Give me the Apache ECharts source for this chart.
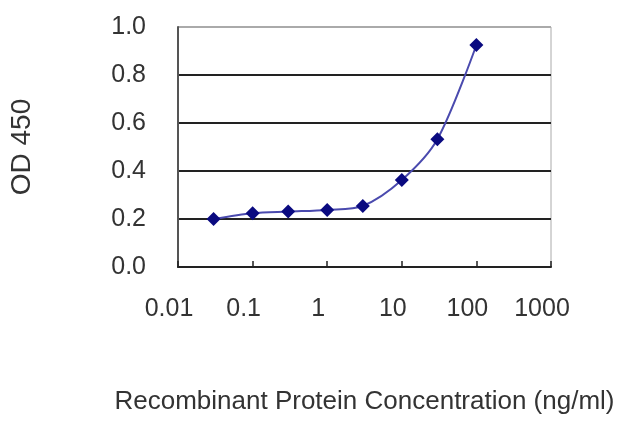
<!DOCTYPE html>
<html><head><meta charset="utf-8">
<script src="https://cdn.jsdelivr.net/npm/echarts@6/dist/echarts.min.js"></script>
<style>html,body{margin:0;padding:0;background:#fff}#c{width:640px;height:427px}</style>
</head><body><div id="c"></div>
<script>
const concentrations = [0.03, 0.1, 0.3, 1, 3, 10, 30, 100];
const od450 = [0.200, 0.224, 0.231, 0.238, 0.254, 0.362, 0.532, 0.925];
const xTickLabels = ['0.01', '0.1', '1', '10', '100', '1000'];
const yTicks = [0, 0.2, 0.4, 0.6, 0.8, 1.0];

const chart = echarts.init(document.getElementById('c'));
const font = 'Liberation Sans, Arial, sans-serif';
chart.setOption({
  animation: false,
  grid: {left: 176, right: 89, top: 27, bottom: 160, show: true, borderColor: '#aaaaaa', borderWidth: 1},
  xAxis: {
    type: 'log', logBase: 10, min: 0.01, max: 1000,
    name: 'Recombinant Protein Concentration (ng/ml)', nameLocation: 'middle', nameGap: 122,
    nameTextStyle: {fontFamily: font, fontSize: 26, color: '#333'},
    axisLine: {show: true, lineStyle: {color: '#222', width: 2}},
    axisTick: {show: true, inside: true, length: 6, lineStyle: {color: '#222', width: 1.5}},
    axisLabel: {
      margin: 30, fontFamily: font, fontSize: 25, color: '#333', padding: [0, 18, 0, 0],
      formatter: function (v) { const i = Math.round(Math.log10(v)) + 2; return xTickLabels[i] || ''; }
    },
    splitLine: {show: false}
  },
  yAxis: {
    type: 'value', min: 0, max: 1, interval: 0.2,
    name: 'OD 450', nameLocation: 'middle', nameGap: 142,
    nameTextStyle: {fontFamily: font, fontSize: 28, color: '#333'},
    axisLine: {show: true, lineStyle: {color: '#555', width: 2}},
    axisTick: {show: false},
    axisLabel: {margin: 32, fontFamily: font, fontSize: 25, color: '#333',
      formatter: v => (yTicks.find(t => Math.abs(t - v) < 1e-9) ?? v).toFixed(1)},
    splitLine: {show: true, lineStyle: {color: ['#222', '#222', '#222', '#222', '#222', '#aaaaaa'], width: 2}}
  },
  series: [{
    type: 'line', smooth: 0.3,
    data: concentrations.map((c, i) => [c, od450[i]]),
    symbol: 'diamond', symbolSize: 14,
    lineStyle: {color: '#4a4aae', width: 2},
    itemStyle: {color: '#0a0a80'}
  }]
});
</script></body></html>
